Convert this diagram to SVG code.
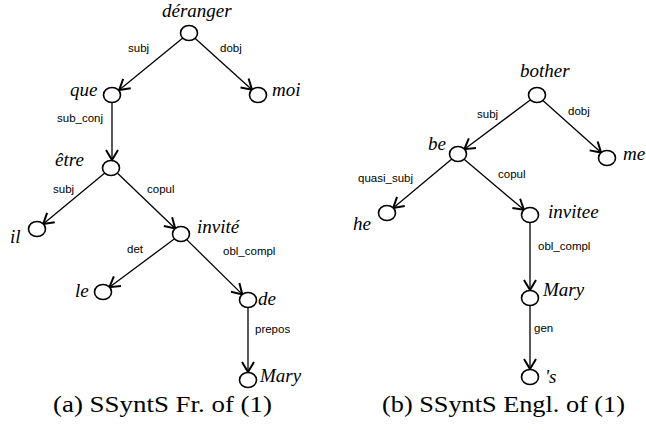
<svg xmlns="http://www.w3.org/2000/svg" width="646" height="430" viewBox="0 0 646 430">
<defs>
<style>
.n{fill:#fff;stroke:#000;stroke-width:1.6}
.w{font-family:"Liberation Serif",serif;font-style:italic;font-size:19px;fill:#000}
.e{font-family:"Liberation Sans",sans-serif;font-size:11.5px;fill:#000}
.c{font-family:"Liberation Serif",serif;font-size:23px;fill:#000}
.l{stroke:#000;stroke-width:1.3;fill:none;marker-end:url(#a)}
</style>
<marker id="a" markerUnits="userSpaceOnUse" markerWidth="16" markerHeight="16" viewBox="-12 -8 14 16" refX="0" refY="0" orient="auto">
<path d="M-10,-6 L0,0 L-10,6" fill="none" stroke="#000" stroke-width="2"/>
</marker>
</defs>
<rect width="646" height="430" fill="#fff"/>
<g id="connectors">
<line class="l" x1="182.8" y1="38.1" x2="119.2" y2="89.9"/>
<line class="l" x1="195" y1="38.3" x2="252" y2="89.7"/>
<line class="l" x1="112" y1="103" x2="112" y2="160"/>
<line class="l" x1="104.8" y1="173.1" x2="43.2" y2="223.9"/>
<line class="l" x1="117.8" y1="173.5" x2="175.2" y2="228.5"/>
<line class="l" x1="174.6" y1="238.8" x2="109.4" y2="287.2"/>
<line class="l" x1="186.7" y1="239.6" x2="242.3" y2="294.4"/>
<line class="l" x1="248" y1="308" x2="248" y2="372"/>
<line class="l" x1="530.6" y1="99.8" x2="464.4" y2="149.2"/>
<line class="l" x1="542.9" y1="100.4" x2="601.1" y2="152.6"/>
<line class="l" x1="451.8" y1="159.1" x2="393.2" y2="207.9"/>
<line class="l" x1="464.1" y1="159.2" x2="523.9" y2="209.8"/>
<line class="l" x1="530" y1="223" x2="530" y2="290"/>
<line class="l" x1="530" y1="306" x2="530" y2="369"/>
<text class="e" x="128" y="52">subj</text>
<text class="e" x="220" y="52">dobj</text>
<text class="e" x="57" y="122">sub_conj</text>
<text class="e" x="53" y="193">subj</text>
<text class="e" x="147" y="193">copul</text>
<text class="e" x="127" y="253">det</text>
<text class="e" x="223" y="255">obl_compl</text>
<text class="e" x="255" y="333">prepos</text>
<text class="e" x="477" y="118">subj</text>
<text class="e" x="568" y="115">dobj</text>
<text class="e" x="358" y="182">quasi_subj</text>
<text class="e" x="498" y="178">copul</text>
<text class="e" x="538" y="250">obl_compl</text>
<text class="e" x="534" y="332">gen</text>
</g>
<g id="deranger"><ellipse class="n" cx="189" cy="33" rx="8.5" ry="7.5"/><text class="w" x="162" y="17">déranger</text></g>
<g id="que"><ellipse class="n" cx="112" cy="95" rx="8.5" ry="7.5"/><text class="w" x="70" y="96">que</text></g>
<g id="moi"><ellipse class="n" cx="258" cy="95" rx="8.5" ry="7.5"/><text class="w" x="272" y="96">moi</text></g>
<g id="etre"><ellipse class="n" cx="111" cy="168" rx="8.5" ry="7.5"/><text class="w" x="55" y="166">être</text></g>
<g id="il"><ellipse class="n" cx="37" cy="229" rx="8.5" ry="7.5"/><text class="w" x="10" y="243">il</text></g>
<g id="invite"><ellipse class="n" cx="181" cy="234" rx="8.5" ry="7.5"/><text class="w" x="197" y="233">invité</text></g>
<g id="le"><ellipse class="n" cx="103" cy="292" rx="8.5" ry="7.5"/><text class="w" x="75" y="297">le</text></g>
<g id="de"><ellipse class="n" cx="248" cy="300" rx="8.5" ry="7.5"/><text class="w" x="258" y="305">de</text></g>
<g id="mary-fr"><ellipse class="n" cx="248" cy="380" rx="8.5" ry="7.5"/><text class="w" x="260" y="382">Mary</text></g>
<g id="bother"><ellipse class="n" cx="537" cy="95" rx="8.5" ry="7.5"/><text class="w" x="520" y="77">bother</text></g>
<g id="be"><ellipse class="n" cx="458" cy="154" rx="8.5" ry="7.5"/><text class="w" x="428" y="150">be</text></g>
<g id="me"><ellipse class="n" cx="607" cy="158" rx="8.5" ry="7.5"/><text class="w" x="623" y="160">me</text></g>
<g id="he"><ellipse class="n" cx="387" cy="213" rx="8.5" ry="7.5"/><text class="w" x="353" y="230">he</text></g>
<g id="invitee"><ellipse class="n" cx="530" cy="215" rx="8.5" ry="7.5"/><text class="w" x="548" y="218">invitee</text></g>
<g id="mary-en"><ellipse class="n" cx="530" cy="298" rx="8.5" ry="7.5"/><text class="w" x="543" y="296">Mary</text></g>
<g id="s"><ellipse class="n" cx="530" cy="377" rx="8.5" ry="7.5"/><text class="w" x="545" y="383">'s</text></g>
<g id="captions">
<text class="c" x="53" y="412" textLength="219" lengthAdjust="spacingAndGlyphs">(a) SSyntS Fr. of (1)</text>
<text class="c" x="382" y="412" textLength="243" lengthAdjust="spacingAndGlyphs">(b) SSyntS Engl. of (1)</text>
</g>
</svg>
